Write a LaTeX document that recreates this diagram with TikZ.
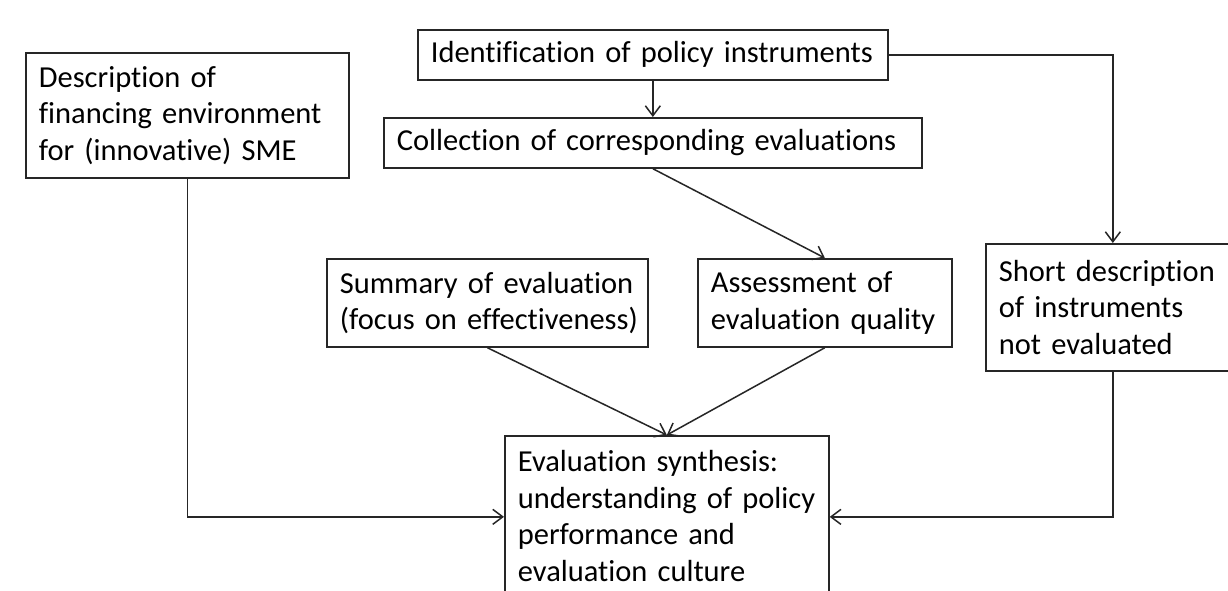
\documentclass[tikz,border=0pt]{standalone}
\usepackage{fontspec}
\setmainfont{Carlito}[Ligatures=NoCommon]
\usetikzlibrary{arrows.meta,calc}
\newcommand\oneline[1]{\mbox{#1}}
\begin{document}
\begin{tikzpicture}[x=1pt,y=-1pt,
  box/.style={draw=black!85, line width=1.7pt, anchor=north west, inner xsep=13pt, inner ysep=0pt,
    align=left, font=\fontsize{30.5}{36.5}\selectfont},
  conn/.style={draw=black!85, line width=1.5pt, -{Straight Barb[length=10pt,width=15pt,line width=1.5pt]}}]
\clip (0,0) rectangle (1228,590);
\fill[white] (0,0) rectangle (1228,590);
\node[box, minimum width=323pt, minimum height=125pt, text width=297pt] (A) at (25,52)
  {\oneline{Description of}\\\oneline{financing environment}\\\oneline{for (innovative) SME}};
\node[box, minimum width=470pt, minimum height=50pt, text width=444pt] (B) at (417,29)
  {\oneline{Identification of policy instruments}};
\node[box, minimum width=538pt, minimum height=50pt, text width=512pt] (C) at (383,117)
  {\oneline{Collection of corresponding evaluations}};
\node[box, minimum width=321pt, minimum height=88pt, text width=295pt] (Su) at (326,258)
  {\oneline{Summary of evaluation}\\\oneline{(focus on effectiveness)}};
\node[box, minimum width=254pt, minimum height=88pt, text width=228pt] (As) at (697,258)
  {\oneline{Assessment of}\\\oneline{evaluation quality}};
\node[box, minimum width=254pt, minimum height=127pt, text width=228pt] (Sh) at (985,243)
  {\oneline{Short description}\\\oneline{of instruments}\\\oneline{not evaluated}};
\node[box, minimum width=324pt, inner ysep=10pt, text width=298pt, text height=26pt, text depth=116pt] (F) at (504,435)
  {\oneline{Evaluation synthesis:}\\\oneline{understanding of policy}\\\oneline{performance and}\\\oneline{evaluation culture}};
\draw[conn] (B.south) -- (C.north);
\draw[conn] (B.east) -| (Sh.north);
\draw[conn] (C.south) -- (As.north);
\draw[conn] (Su.south) -- (F.north);
\draw[conn] (As.south) -- (F.north);
\draw[conn] (A.south) |- (F.west);
\draw[conn] (Sh.south) |- (F.east);
\end{tikzpicture}
\end{document}
